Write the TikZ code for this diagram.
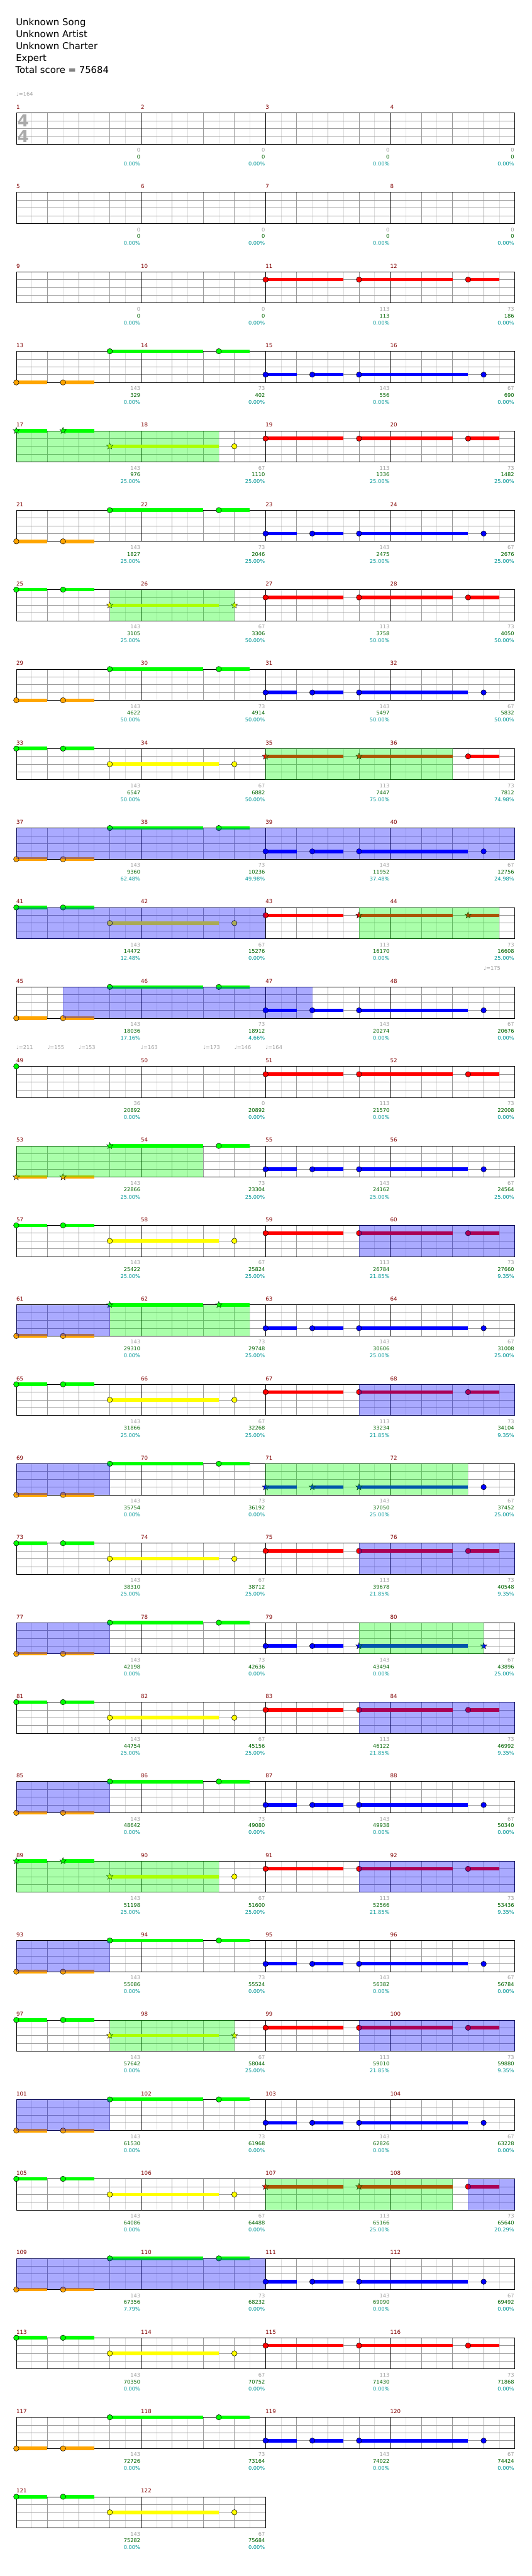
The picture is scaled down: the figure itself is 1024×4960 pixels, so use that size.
\documentclass[tikz,border=0pt]{standalone}
\usepackage{fontspec}
\setmainfont{DejaVu Sans}
\definecolor{lane0}{RGB}{0,255,0}
\definecolor{lane1}{RGB}{255,0,0}
\definecolor{lane2}{RGB}{255,255,0}
\definecolor{lane3}{RGB}{0,0,255}
\definecolor{lane4}{RGB}{255,165,0}
\definecolor{mnumc}{RGB}{128,0,0}
\definecolor{graytc}{RGB}{160,160,160}
\definecolor{greentc}{RGB}{0,100,0}
\definecolor{tealtc}{RGB}{0,150,150}
\definecolor{gridc}{RGB}{153,153,153}
\definecolor{lgridc}{RGB}{221,221,221}
\definecolor{sigc}{RGB}{170,170,170}
\definecolor{temc}{RGB}{160,160,160}
\tikzset{
  grd/.style={draw=gridc, line width=0.8pt},
  lgrd/.style={draw=lgridc, line width=0.8pt},
  blk/.style={draw=black, line width=0.9pt},
  mnum/.style={anchor=base west, text=mnumc, font=\fontsize{10.5}{12}\selectfont, inner sep=0pt},
  bnum/.style={anchor=base east, font=\fontsize{10}{12}\selectfont, inner sep=0pt},
  tempo/.style={anchor=base west, text=temc, font=\fontsize{10}{12}\selectfont, inner sep=0pt},
  titletext/.style={anchor=base west, font=\fontsize{18}{20}\selectfont, inner sep=0pt},
  head/.style={draw=black, line width=0.6pt},
  sig/.style={text=sigc, font=\bfseries\fontsize{32}{32}\selectfont, inner sep=0pt},
}
% one note: #1 shape (c/s), #2 lane, #3 beat, #4 end beat of sustain (may be empty)
\newcommand\nt[4]{%
  \pgfmathsetmacro\nx{31.33+60*#3}%
  \pgfmathsetmacro\ny{15*#2}%
  \ifx\relax#4\relax\else
    \pgfmathsetmacro\nxe{31.33+60*#4}%
    \fill[lane#2] (\nx,{\ny-3.4}) rectangle (\nxe,{\ny+3.4});%
  \fi
  \if s#1%
    \filldraw[fill=lane#2, draw=black, line width=0.5pt, shift={(\nx,\ny)}]
      (-90:6.6) -- (-54:2.7) -- (-18:6.6) -- (18:2.7) -- (54:6.6) -- (90:2.7)
      -- (126:6.6) -- (162:2.7) -- (198:6.6) -- (234:2.7) -- cycle;%
  \else
    \filldraw[fill=lane#2, head] (\nx,\ny) circle (5.2);%
  \fi}
\newcommand\pA[4]{\nt{#1}{4}{0}{1}\nt{#2}{4}{1.5}{2.5}\nt{#3}{0}{3}{6}\nt{#4}{0}{6.5}{7.5}}
\newcommand\pB[4]{\nt{#1}{0}{0}{1}\nt{#2}{0}{1.5}{2.5}\nt{#3}{2}{3}{6.5}\nt{#4}{2}{7}{}}
\newcommand\pR[3]{\nt{#1}{1}{8}{10.5}\nt{#2}{1}{11}{14}\nt{#3}{1}{14.5}{15.5}}
\newcommand\pL[4]{\nt{#1}{3}{8}{9}\nt{#2}{3}{9.5}{10.5}\nt{#3}{3}{11}{14.5}\nt{#4}{3}{15}{}}
\newcommand\ovg[2]{\fill[lane0, fill opacity=0.3333] ({31.33+60*#1},0) rectangle ({31.33+60*#2},60);}
\newcommand\ovb[2]{\fill[lane3, fill opacity=0.3333] ({31.33+60*#1},0) rectangle ({31.33+60*#2},60);}
% staff row: #1 row index, #2 first measure, #3 number of measures, #4 notes, #5 overlays
\newcommand\staffrow[5]{%
  \begin{scope}[shift={(0,{217.33+153*#1})}]
    \pgfmathsetmacro\xe{31.33+240*#3}
    \foreach \i in {1,...,#3}{
      \pgfmathsetmacro\xa{31.33+240*(\i-1)}
      \foreach \h in {30,90,150,210}{\draw[lgrd] ({\xa+\h},0) -- ++(0,60);}
    }
    \foreach \i in {1,...,#3}{
      \pgfmathsetmacro\xa{31.33+240*(\i-1)}
      \foreach \h in {60,120,180}{\draw[grd] ({\xa+\h},0) -- ++(0,60);}
    }
    \foreach \yy in {15,30,45}{\draw[grd] (31.33,\yy) -- (\xe,\yy);}
    \draw[blk] (31.33,0) rectangle (\xe,60);
    \pgfmathtruncatemacro\nm{#3-1}
    \foreach \i in {1,...,\nm}{\draw[blk] ({31.33+240*\i},0) -- ++(0,60);}
    \foreach \i in {0,...,\nm}{
      \pgfmathtruncatemacro\mm{#2+\i}
      \node[mnum, name=mn\mm] at ({31.33+240*\i},-7.3) {\mm};
    }
    #4
    #5
  \end{scope}}
% numbers under a measure: #1 measure, #2 gray, #3 green, #4 percent
\newcommand\mv[4]{%
  \pgfmathtruncatemacro\rk{(#1-1)/4}%
  \pgfmathtruncatemacro\ik{#1-1-4*\rk}%
  \pgfmathsetmacro\bx{31.33+240*(\ik+1)-1}%
  \pgfmathsetmacro\by{217.33+153*\rk}%
  \node[bnum, text=graytc, name=sa#1] at (\bx,{\by+75.3}) {#2};%
  \node[bnum, text=greentc, name=sb#1] at (\bx,{\by+88.3}) {#3};%
  \node[bnum, text=tealtc, name=sc#1] at (\bx,{\by+101.7}) {#4\%};}
\begin{document}
\begin{tikzpicture}[x=1pt,y=-1pt]
\useasboundingbox (0,0) rectangle (1024,4960);
\fill[white] (0,0) rectangle (1024,4960);
\node[titletext, name=t1] at (30.5,49.3) {Unknown Song};
\node[titletext, name=t2] at (30.5,72.3) {Unknown Artist};
\node[titletext, name=t3] at (30.5,95.3) {Unknown Charter};
\node[titletext, name=t4] at (30.5,118.3) {Expert};
\node[titletext, name=t5] at (29.5,141.3) {Total score = 75684};
% tempo markings
\node[tempo, name=tp1] at (31.33,184.3) {♩=164};
\node[tempo, name=tp2] at (931.33,1867.3) {♩=175};
\node[tempo, name=tp3] at (31.33,2020.3) {♩=211};
\node[tempo, name=tp4] at (91.33,2020.3) {♩=155};
\node[tempo, name=tp5] at (151.33,2020.3) {♩=153};
\node[tempo, name=tp6] at (271.33,2020.3) {♩=163};
\node[tempo, name=tp7] at (391.33,2020.3) {♩=173};
\node[tempo, name=tp8] at (451.33,2020.3) {♩=146};
\node[tempo, name=tp9] at (511.33,2020.3) {♩=164};
% staves
\staffrow{0}{1}{4}{}{}
\node[sig, name=ts1] at (44.5,232.6) {4};
\node[sig, name=ts2] at (44.5,262.6) {4};
\staffrow{1}{5}{4}{}{}
\staffrow{2}{9}{4}{\pR{c}{c}{c}}{}
\staffrow{3}{13}{4}{\pA{c}{c}{c}{c}\pL{c}{c}{c}{c}}{}
\staffrow{4}{17}{4}{\pB{s}{s}{s}{c}\pR{c}{c}{c}}{\ovg{0}{6.5}}
\staffrow{5}{21}{4}{\pA{c}{c}{c}{c}\pL{c}{c}{c}{c}}{}
\staffrow{6}{25}{4}{\pB{c}{c}{s}{s}\pR{c}{c}{c}}{\ovg{3}{7}}
\staffrow{7}{29}{4}{\pA{c}{c}{c}{c}\pL{c}{c}{c}{c}}{}
\staffrow{8}{33}{4}{\pB{c}{c}{c}{c}\pR{s}{s}{c}}{\ovg{8}{14}}
\staffrow{9}{37}{4}{\pA{c}{c}{c}{c}\pL{c}{c}{c}{c}}{\ovb{0}{16}}
\staffrow{10}{41}{4}{\pB{c}{c}{c}{c}\pR{c}{s}{s}}{\ovb{0}{8}\ovg{11}{15.5}}
\staffrow{11}{45}{4}{\pA{c}{c}{c}{c}\pL{c}{c}{c}{c}}{\ovb{1.5}{9.5}}
\staffrow{12}{49}{4}{\nt{c}{0}{0}{}\pR{c}{c}{c}}{}
\staffrow{13}{53}{4}{\pA{s}{s}{s}{c}\pL{c}{c}{c}{c}}{\ovg{0}{6}}
\staffrow{14}{57}{4}{\pB{c}{c}{c}{c}\pR{c}{c}{c}}{\ovb{11}{16}}
\staffrow{15}{61}{4}{\pA{c}{c}{s}{s}\pL{c}{c}{c}{c}}{\ovb{0}{3}\ovg{3}{7.5}}
\staffrow{16}{65}{4}{\pB{c}{c}{c}{c}\pR{c}{c}{c}}{\ovb{11}{16}}
\staffrow{17}{69}{4}{\pA{c}{c}{c}{c}\pL{s}{s}{s}{c}}{\ovb{0}{3}\ovg{8}{14.5}}
\staffrow{18}{73}{4}{\pB{c}{c}{c}{c}\pR{c}{c}{c}}{\ovb{11}{16}}
\staffrow{19}{77}{4}{\pA{c}{c}{c}{c}\pL{c}{c}{s}{s}}{\ovb{0}{3}\ovg{11}{15}}
\staffrow{20}{81}{4}{\pB{c}{c}{c}{c}\pR{c}{c}{c}}{\ovb{11}{16}}
\staffrow{21}{85}{4}{\pA{c}{c}{c}{c}\pL{c}{c}{c}{c}}{\ovb{0}{3}}
\staffrow{22}{89}{4}{\pB{s}{s}{s}{c}\pR{c}{c}{c}}{\ovg{0}{6.5}\ovb{11}{16}}
\staffrow{23}{93}{4}{\pA{c}{c}{c}{c}\pL{c}{c}{c}{c}}{\ovb{0}{3}}
\staffrow{24}{97}{4}{\pB{c}{c}{s}{s}\pR{c}{c}{c}}{\ovg{3}{7}\ovb{11}{16}}
\staffrow{25}{101}{4}{\pA{c}{c}{c}{c}\pL{c}{c}{c}{c}}{\ovb{0}{3}}
\staffrow{26}{105}{4}{\pB{c}{c}{c}{c}\pR{s}{s}{c}}{\ovg{8}{14}\ovb{14.5}{16}}
\staffrow{27}{109}{4}{\pA{c}{c}{c}{c}\pL{c}{c}{c}{c}}{\ovb{0}{8}}
\staffrow{28}{113}{4}{\pB{c}{c}{c}{c}\pR{c}{c}{c}}{}
\staffrow{29}{117}{4}{\pA{c}{c}{c}{c}\pL{c}{c}{c}{c}}{}
\staffrow{30}{121}{2}{\pB{c}{c}{c}{c}}{}
% measure values
\mv{1}{0}{0}{0.00}\mv{2}{0}{0}{0.00}\mv{3}{0}{0}{0.00}\mv{4}{0}{0}{0.00}
\mv{5}{0}{0}{0.00}\mv{6}{0}{0}{0.00}\mv{7}{0}{0}{0.00}\mv{8}{0}{0}{0.00}
\mv{9}{0}{0}{0.00}\mv{10}{0}{0}{0.00}\mv{11}{113}{113}{0.00}\mv{12}{73}{186}{0.00}
\mv{13}{143}{329}{0.00}\mv{14}{73}{402}{0.00}\mv{15}{143}{556}{0.00}\mv{16}{67}{690}{0.00}
\mv{17}{143}{976}{25.00}\mv{18}{67}{1110}{25.00}\mv{19}{113}{1336}{25.00}\mv{20}{73}{1482}{25.00}
\mv{21}{143}{1827}{25.00}\mv{22}{73}{2046}{25.00}\mv{23}{143}{2475}{25.00}\mv{24}{67}{2676}{25.00}
\mv{25}{143}{3105}{25.00}\mv{26}{67}{3306}{50.00}\mv{27}{113}{3758}{50.00}\mv{28}{73}{4050}{50.00}
\mv{29}{143}{4622}{50.00}\mv{30}{73}{4914}{50.00}\mv{31}{143}{5497}{50.00}\mv{32}{67}{5832}{50.00}
\mv{33}{143}{6547}{50.00}\mv{34}{67}{6882}{50.00}\mv{35}{113}{7447}{75.00}\mv{36}{73}{7812}{74.98}
\mv{37}{143}{9360}{62.48}\mv{38}{73}{10236}{49.98}\mv{39}{143}{11952}{37.48}\mv{40}{67}{12756}{24.98}
\mv{41}{143}{14472}{12.48}\mv{42}{67}{15276}{0.00}\mv{43}{113}{16170}{0.00}\mv{44}{73}{16608}{25.00}
\mv{45}{143}{18036}{17.16}\mv{46}{73}{18912}{4.66}\mv{47}{143}{20274}{0.00}\mv{48}{67}{20676}{0.00}
\mv{49}{36}{20892}{0.00}\mv{50}{0}{20892}{0.00}\mv{51}{113}{21570}{0.00}\mv{52}{73}{22008}{0.00}
\mv{53}{143}{22866}{25.00}\mv{54}{73}{23304}{25.00}\mv{55}{143}{24162}{25.00}\mv{56}{67}{24564}{25.00}
\mv{57}{143}{25422}{25.00}\mv{58}{67}{25824}{25.00}\mv{59}{113}{26784}{21.85}\mv{60}{73}{27660}{9.35}
\mv{61}{143}{29310}{0.00}\mv{62}{73}{29748}{25.00}\mv{63}{143}{30606}{25.00}\mv{64}{67}{31008}{25.00}
\mv{65}{143}{31866}{25.00}\mv{66}{67}{32268}{25.00}\mv{67}{113}{33234}{21.85}\mv{68}{73}{34104}{9.35}
\mv{69}{143}{35754}{0.00}\mv{70}{73}{36192}{0.00}\mv{71}{143}{37050}{25.00}\mv{72}{67}{37452}{25.00}
\mv{73}{143}{38310}{25.00}\mv{74}{67}{38712}{25.00}\mv{75}{113}{39678}{21.85}\mv{76}{73}{40548}{9.35}
\mv{77}{143}{42198}{0.00}\mv{78}{73}{42636}{0.00}\mv{79}{143}{43494}{0.00}\mv{80}{67}{43896}{25.00}
\mv{81}{143}{44754}{25.00}\mv{82}{67}{45156}{25.00}\mv{83}{113}{46122}{21.85}\mv{84}{73}{46992}{9.35}
\mv{85}{143}{48642}{0.00}\mv{86}{73}{49080}{0.00}\mv{87}{143}{49938}{0.00}\mv{88}{67}{50340}{0.00}
\mv{89}{143}{51198}{25.00}\mv{90}{67}{51600}{25.00}\mv{91}{113}{52566}{21.85}\mv{92}{73}{53436}{9.35}
\mv{93}{143}{55086}{0.00}\mv{94}{73}{55524}{0.00}\mv{95}{143}{56382}{0.00}\mv{96}{67}{56784}{0.00}
\mv{97}{143}{57642}{0.00}\mv{98}{67}{58044}{25.00}\mv{99}{113}{59010}{21.85}\mv{100}{73}{59880}{9.35}
\mv{101}{143}{61530}{0.00}\mv{102}{73}{61968}{0.00}\mv{103}{143}{62826}{0.00}\mv{104}{67}{63228}{0.00}
\mv{105}{143}{64086}{0.00}\mv{106}{67}{64488}{0.00}\mv{107}{113}{65166}{25.00}\mv{108}{73}{65640}{20.29}
\mv{109}{143}{67356}{7.79}\mv{110}{73}{68232}{0.00}\mv{111}{143}{69090}{0.00}\mv{112}{67}{69492}{0.00}
\mv{113}{143}{70350}{0.00}\mv{114}{67}{70752}{0.00}\mv{115}{113}{71430}{0.00}\mv{116}{73}{71868}{0.00}
\mv{117}{143}{72726}{0.00}\mv{118}{73}{73164}{0.00}\mv{119}{143}{74022}{0.00}\mv{120}{67}{74424}{0.00}
\mv{121}{143}{75282}{0.00}\mv{122}{67}{75684}{0.00}
\end{tikzpicture}
\end{document}
